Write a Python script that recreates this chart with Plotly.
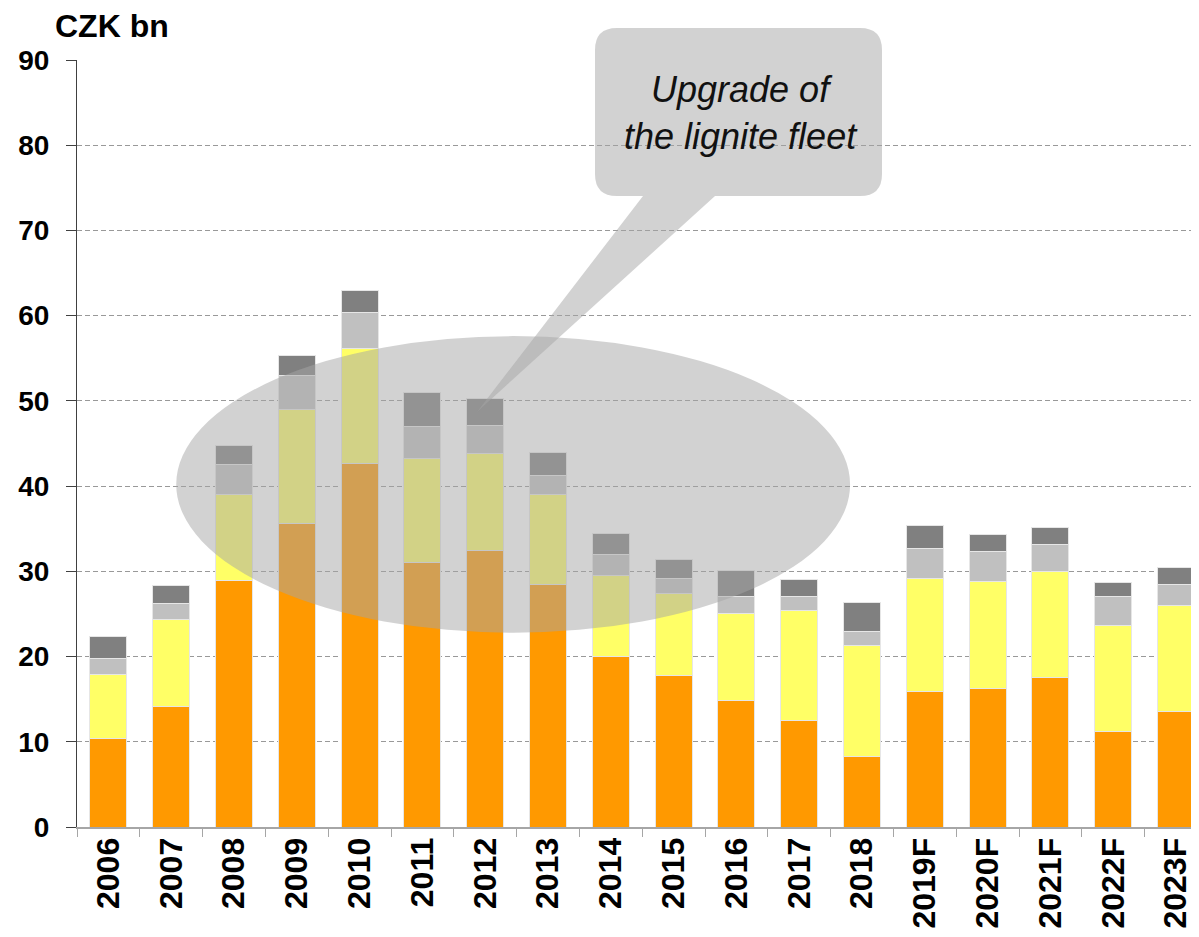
import plotly.graph_objects as go

years = ["2006", "2007", "2008", "2009", "2010", "2011", "2012", "2013", "2014",
         "2015", "2016", "2017", "2018", "2019F", "2020F", "2021F", "2022F", "2023F"]
orange_vals = [10.4, 14.1, 28.9, 35.6, 42.7, 31.0, 32.4, 28.4, 20.0,
               17.8, 14.8, 12.5, 8.3, 15.9, 16.3, 17.6, 11.2, 13.5]
yellow_vals = [7.5, 10.3, 10.1, 13.4, 13.4, 12.2, 11.4, 10.6, 9.5,
               9.6, 10.3, 12.9, 13.0, 13.3, 12.5, 12.4, 12.4, 12.5]
lightgray_vals = [1.9, 1.8, 3.5, 4.0, 4.3, 3.8, 3.3, 2.2, 2.5,
                  1.8, 2.0, 1.6, 1.6, 3.5, 3.5, 3.1, 3.4, 2.5]
darkgray_vals = [2.6, 2.1, 2.3, 2.3, 2.6, 4.0, 3.2, 2.8, 2.4,
                 2.2, 3.0, 2.0, 3.4, 2.7, 2.0, 2.1, 1.7, 1.9]
y_ticks = [0, 10, 20, 30, 40, 50, 60, 70, 80, 90]

series = [
    (orange_vals, "#FF9900"),
    (yellow_vals, "#FFFF66"),
    (lightgray_vals, "#C0C0C0"),
    (darkgray_vals, "#808080"),
]

FONT = "Liberation Sans, Arial, sans-serif"
OFF = 8  # page body margin
W, H = 1199 - OFF, 937 - OFF
ML, MR, MT, MB = 77 - OFF, 0, 60 - OFF, 110
PW, PH = W - ML - MR, H - MT - MB

fig = go.Figure()
for vals, col in series:
    fig.add_trace(go.Bar(
        x=years, y=vals,
        marker=dict(color=col, line=dict(color="#E6E6E6", width=1)),
        showlegend=False, hoverinfo="skip",
    ))


# screen pixel -> paper coordinates
def X(px):
    return (px - OFF - ML) / PW


def Y(py):
    return (H - MB - (py - OFF)) / PH


# ellipse highlighting the lignite upgrade years (data coords: category index / value)
fig.add_shape(type="circle", xref="x", yref="y",
              x0=1.08, x1=11.81, y0=22.8, y1=57.6,
              fillcolor="rgba(165,165,165,0.5)", line=dict(width=0), layer="above")

# callout bubble with tail
l, r, t, b, rad = 595, 882, 28, 196, 22
tl, tr, tipx, tipy = 643, 715, 477, 412
path = (
    f"M {X(l+rad)} {Y(t)} L {X(r-rad)} {Y(t)} Q {X(r)} {Y(t)} {X(r)} {Y(t+rad)} "
    f"L {X(r)} {Y(b-rad)} Q {X(r)} {Y(b)} {X(r-rad)} {Y(b)} "
    f"L {X(tr)} {Y(b)} L {X(tipx)} {Y(tipy)} L {X(tl)} {Y(b)} "
    f"L {X(l+rad)} {Y(b)} Q {X(l)} {Y(b)} {X(l)} {Y(b-rad)} "
    f"L {X(l)} {Y(t+rad)} Q {X(l)} {Y(t)} {X(l+rad)} {Y(t)} Z"
)
fig.add_shape(type="path", xref="paper", yref="paper", path=path,
              fillcolor="rgba(165,165,165,0.5)", line=dict(width=0), layer="above")

fig.add_annotation(xref="paper", yref="paper", x=X(741), y=Y(113),
                   text="<i>Upgrade of<br>the lignite fleet</i>", showarrow=False,
                   font=dict(family=FONT, size=36, color="#111111"),
                   xanchor="center", yanchor="middle", align="center")

fig.add_annotation(xref="paper", yref="paper", x=X(53), y=Y(26),
                   text="CZK bn", showarrow=False,
                   font=dict(family=FONT, size=32, color="#000000", weight="bold"),
                   xanchor="left", yanchor="middle")

fig.update_layout(
    width=W, height=H,
    margin=dict(l=ML, r=MR, t=MT, b=MB, pad=0, autoexpand=False),
    barmode="stack", bargap=0.41,
    plot_bgcolor="white", paper_bgcolor="white",
    font=dict(family=FONT, color="#000000"),
)
fig.update_xaxes(
    type="category", range=[-0.5, 17.366], automargin=False,
    showline=True, linecolor="#A6A6A6", linewidth=2,
    ticks="outside", tickson="boundaries", ticklen=8, tickcolor="#A6A6A6", tickwidth=1,
    tickangle=-90, tickfont=dict(family=FONT, size=32, color="#000000", weight="bold"),
    ticklabelstandoff=-4,
    showgrid=False,
)
fig.update_yaxes(
    range=[0, 90], tickvals=y_ticks, automargin=False,
    showline=True, linecolor="#404040", linewidth=1,
    ticks="outside", ticklen=10, tickcolor="#404040",
    tickfont=dict(family=FONT, size=28, color="#000000", weight="bold"),
    ticklabelstandoff=11,
    showgrid=True, gridcolor="#999999", gridwidth=1, griddash="5px,3px",
    zeroline=False,
)

fig.write_html("out.html")
